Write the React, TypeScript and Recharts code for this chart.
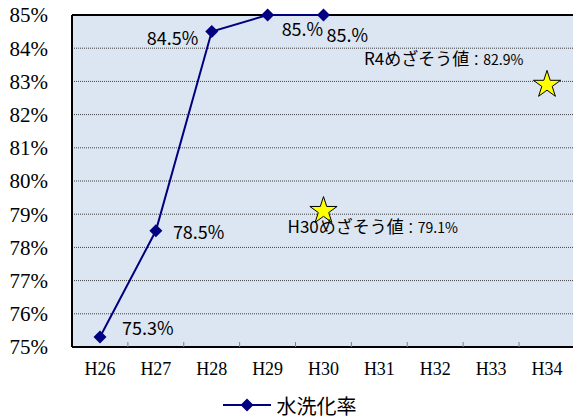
import React from 'react';
import { ComposedChart, Line, Scatter, XAxis, YAxis, CartesianGrid, ReferenceLine, Legend, LabelList, Symbols } from 'recharts';

const YEARS = ['H26', 'H27', 'H28', 'H29', 'H30', 'H31', 'H32', 'H33', 'H34'];
const RATE = [75.3, 78.5, 84.5, 85.0, 85.0, null, null, null, null];
const RATE_TEXT = ['75.3%', '78.5%', '84.5%', '85.%', '85.%'];
const TARGET = [null, null, null, null, 79.1, null, null, null, 82.9];
const TARGET_NAME = ['', '', '', '', 'H30めざそう値', '', '', '', 'R4めざそう値'];
const Y_TICKS = [75, 76, 77, 78, 79, 80, 81, 82, 83, 84, 85];

const data = YEARS.map((name, i) => ({ name, rate: RATE[i], target: TARGET[i] }));

// label placement relative to the point: [dx to left edge, dy to middle]
const RATE_LABEL_POS = [[22, -8], [17, 2], [-65, 7], [14, 15], [3, 21]];
const TARGET_LABEL_POS: Record<string, number[]> = { H30: [-36, 17], H34: [-183, -25] };

const NAVY = '#000080';
const SANS = '"Noto Sans CJK JP", "Noto Sans", sans-serif';
const SERIF = '"Liberation Serif", "DejaVu Serif", serif';
const HALF_BAND = 28;

const Diamond = (p: any) => {
  if (p.cx == null || p.cy == null || p.value == null) return <g key={p.key} />;
  const r = 6.5;
  return (
    <polygon
      key={p.key}
      points={`${p.cx},${p.cy - r} ${p.cx + r},${p.cy} ${p.cx},${p.cy + r} ${p.cx - r},${p.cy}`}
      fill={NAVY}
    />
  );
};

const RateLabel = (p: any) => {
  const pos = RATE_LABEL_POS[p.index];
  if (!pos || p.value == null) return null;
  return (
    <text x={p.x + pos[0]} y={p.y + pos[1]} dy="0.35em" fontSize={18} fontFamily={SANS} fill="#000">
      {RATE_TEXT[p.index]}
    </text>
  );
};

const StarShape = (p: any) => {
  const name = p.payload?.name;
  if (p.payload?.target == null) return <g />;
  const pos = TARGET_LABEL_POS[name] || [0, 0];
  const i = YEARS.indexOf(name);
  return (
    <g>
      <Symbols cx={p.cx} cy={p.cy} type="star" size={230} fill="#ffff00" stroke="#000" strokeWidth={1} />
      <text x={p.cx + pos[0]} y={p.cy + pos[1]} dy="0.35em" fontFamily={SANS} fill="#000">
        <tspan fontSize={17}>{TARGET_NAME[i]}</tspan>
        <tspan fontSize={14}>{`：${TARGET[i]}%`}</tspan>
      </text>
    </g>
  );
};

const XTick = (p: any) => {
  const bx = p.x - HALF_BAND;
  return (
    <g>
      {p.index > 0 && <line x1={bx} y1={p.y} x2={bx} y2={p.y - 5} stroke="#808080" strokeWidth={1} />}
      <text x={p.x} y={p.y + 22} dy="0.35em" textAnchor="middle" fontSize={18} fontFamily={SERIF} fill="#000">
        {p.payload.value}
      </text>
    </g>
  );
};

const LegendBox = () => (
  <div style={{ display: 'flex', justifyContent: 'center', alignItems: 'center', height: 28, paddingLeft: 4 }}>
    <svg width={48} height={16}>
      <line x1={0} y1={8} x2={48} y2={8} stroke={NAVY} strokeWidth={2} />
      <polygon points="24,1.5 30.5,8 24,14.5 17.5,8" fill={NAVY} />
    </svg>
    <span style={{ marginLeft: 6, fontSize: 20, fontFamily: SANS, color: '#000' }}>水洗化率</span>
  </div>
);

export default function App() {
  return (
    <div style={{ position: 'absolute', left: 0, top: 0, width: 573, height: 419, background: '#fff' }}>
      <ComposedChart width={573} height={419} data={data} margin={{ top: 15, right: -2, bottom: 14, left: 0 }}>
        <CartesianGrid vertical={false} fill="#dce6f2" stroke="#404040" strokeDasharray="1 1" />
        <XAxis
          dataKey="name"
          height={30}
          padding={{ left: HALF_BAND, right: HALF_BAND }}
          axisLine={{ stroke: '#000', strokeWidth: 2 }}
          tickLine={false}
          tickSize={0}
          tickMargin={0}
          interval={0}
          tick={<XTick />}
        />
        <YAxis
          width={72}
          domain={[75, 85]}
          ticks={Y_TICKS}
          interval={0}
          axisLine={{ stroke: '#000', strokeWidth: 2 }}
          tickLine={false}
          tickMargin={18}
          tickFormatter={(v: number) => `${v}%`}
          tick={{ fontSize: 21, fontFamily: SERIF, fill: '#000' }}
        />
        <ReferenceLine y={85} stroke="#000" strokeWidth={2} />
        <Legend verticalAlign="bottom" height={28} wrapperStyle={{ bottom: 0 }} content={<LegendBox />} />
        <Line
          dataKey="rate"
          stroke={NAVY}
          strokeWidth={2}
          dot={Diamond}
          activeDot={false}
          connectNulls={false}
          isAnimationActive={false}
        >
          <LabelList dataKey="rate" content={RateLabel} />
        </Line>
        <Scatter dataKey="target" shape={StarShape} isAnimationActive={false} legendType="none" />
      </ComposedChart>
    </div>
  );
}
